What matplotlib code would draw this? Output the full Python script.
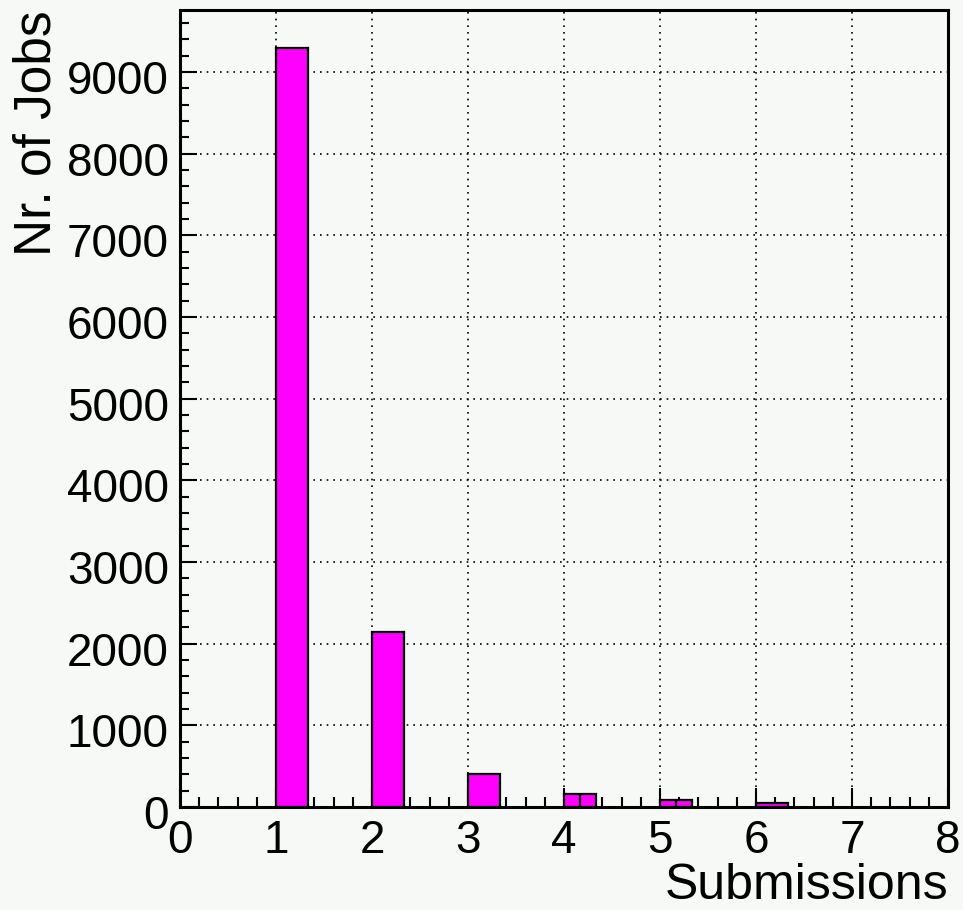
import matplotlib
matplotlib.use('Agg')
import matplotlib.pyplot as plt
from matplotlib.ticker import MultipleLocator
from matplotlib.transforms import ScaledTranslation

# counts per number of submissions
submissions = [1, 2, 3, 4, 5, 6]
counts = [9291, 2144, 400, 164, 82, 43]
split_bars = [4, 5]  # bars drawn with a divider in the middle
bin_width = 1 / 3

plt.rcParams['font.family'] = ['Liberation Sans', 'DejaVu Sans']

bg = '#f6f9f6'
fig = plt.figure(figsize=(9.63, 9.10), dpi=100, facecolor=bg)
ax = fig.add_axes([0.187, 0.1132, 0.7974, 0.8758])
ax.set_facecolor(bg)

ax.bar(submissions, counts, width=bin_width, align='edge',
       color='#ff00ff', edgecolor='black', linewidth=1.6, zorder=3)
for s, c in zip(submissions, counts):
    if s in split_bars:
        ax.vlines(s + bin_width / 2, 0, c, color='black', linewidth=1.6, zorder=4)

ax.set_xlim(0, 8)
ax.set_ylim(0, 9760)
ax.set_xticks(range(0, 9))
ax.set_yticks(range(0, 10000, 1000))
ax.xaxis.set_minor_locator(MultipleLocator(0.2))
ax.yaxis.set_minor_locator(MultipleLocator(200))

ax.grid(True, which='major', color='black', linestyle=(0, (1, 3)), linewidth=1.2, zorder=1)
ax.tick_params(which='both', direction='in', top=False, right=False,
               labelsize=33, width=1.5, colors='black')
ax.tick_params(axis='x', which='major', length=14, pad=9)
ax.tick_params(axis='x', which='minor', length=7)
ax.tick_params(axis='y', which='major', length=12, pad=8)
ax.tick_params(axis='y', which='minor', length=6.5)

# y labels sit a little below their ticks, as in the original
shift = ScaledTranslation(0, -0.05, fig.dpi_scale_trans)
for lbl in ax.get_yticklabels():
    lbl.set_transform(lbl.get_transform() + shift)

for sp in ax.spines.values():
    sp.set_linewidth(2.2)
    sp.set_zorder(5)

ax.set_xlabel('Submissions', fontsize=36, ha='right', va='baseline')
ax.xaxis.set_label_coords(1.0, -0.1155)
ax.set_ylabel('Nr. of Jobs', fontsize=37, loc='top', labelpad=4)

fig.savefig('out.png', dpi=100, facecolor=bg)
